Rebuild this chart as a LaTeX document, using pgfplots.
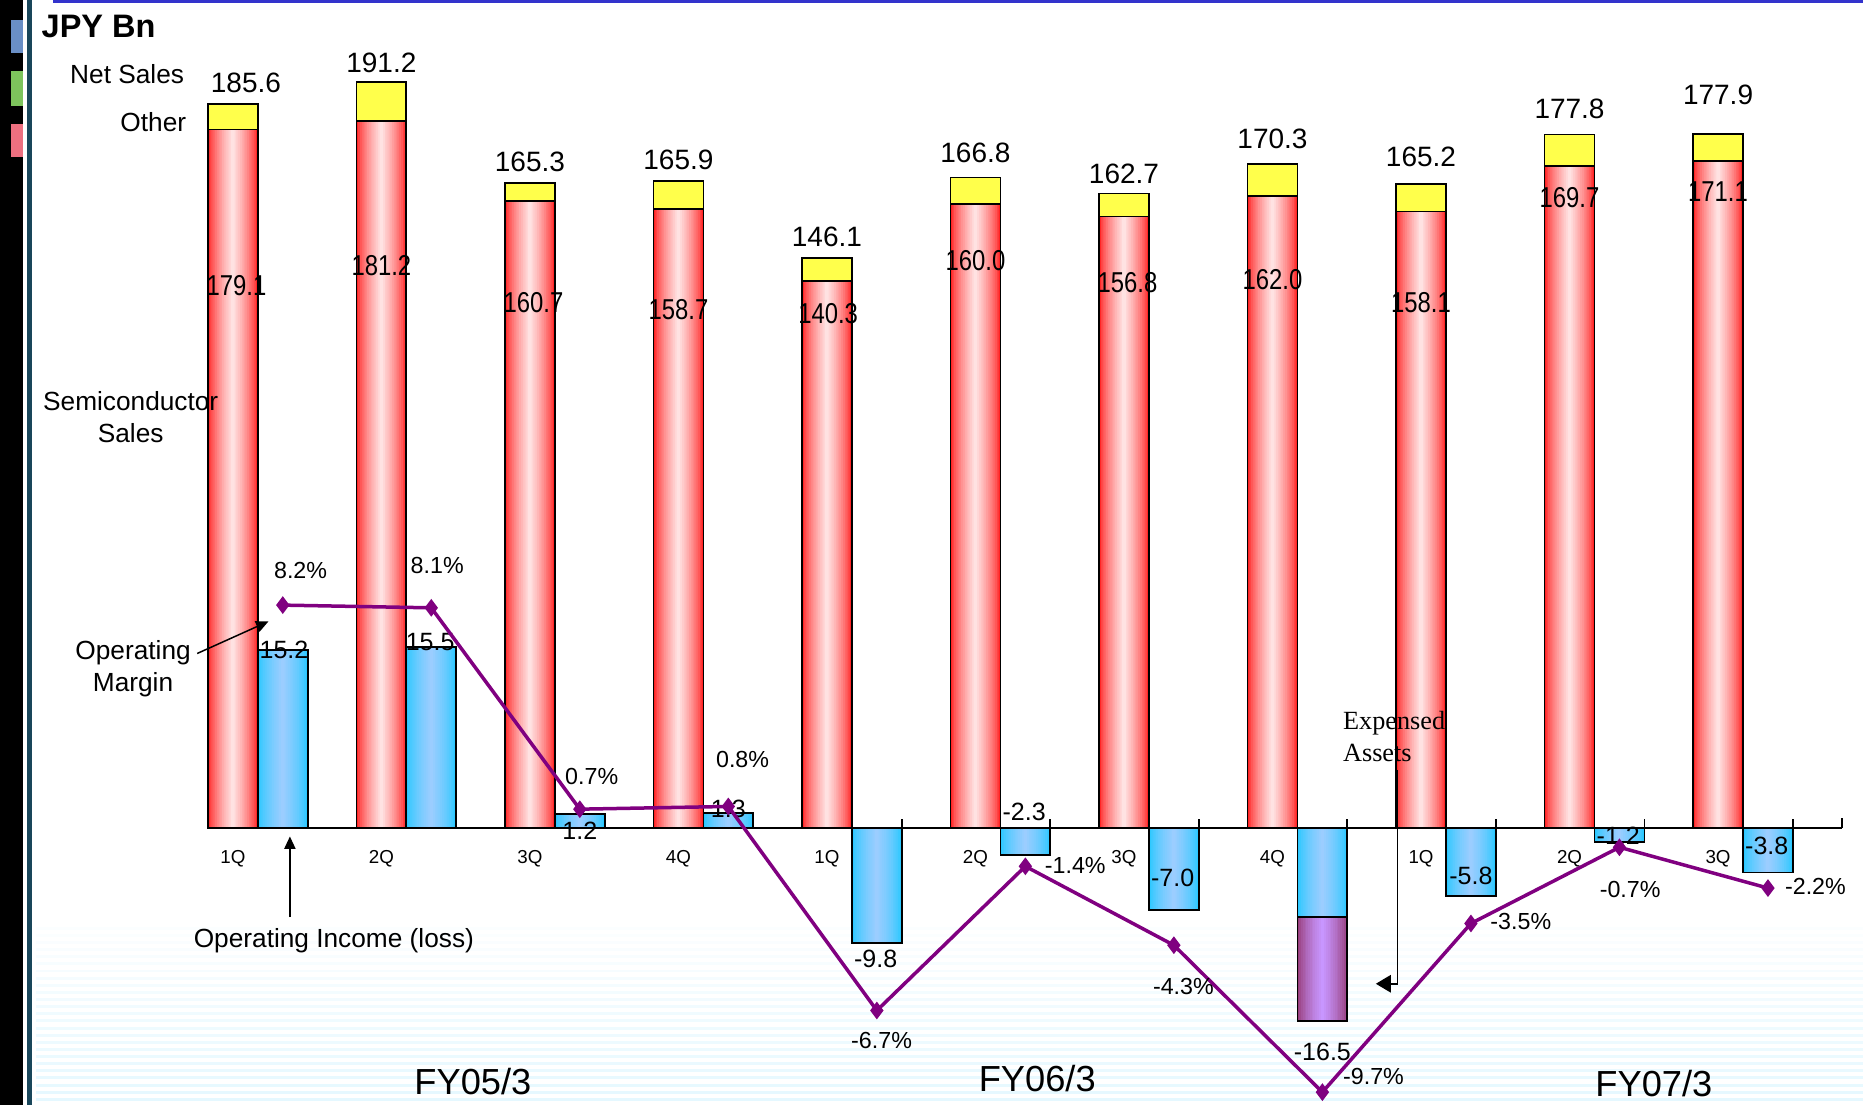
\documentclass[border=0pt]{standalone}
\usepackage{pgfplots}
\usepackage{pgfplotstable}
\pgfplotsset{compat=1.18}
\usepackage{fontspec}
\setmainfont{Liberation Sans}
\newfontfamily\timesf{Liberation Serif}
\usepackage{graphicx}
\usetikzlibrary{arrows.meta}

\definecolor{redE}{RGB}{255,35,35}
\definecolor{redC}{RGB}{255,226,226}
\definecolor{bluE}{RGB}{40,200,255}
\definecolor{bluC}{RGB}{155,205,255}
\definecolor{purE}{RGB}{150,60,120}
\definecolor{purC}{RGB}{200,150,255}
\definecolor{yelF}{RGB}{255,255,75}
\definecolor{lineP}{RGB}{128,0,128}
\definecolor{topblue}{RGB}{51,51,204}
\definecolor{sqblue}{RGB}{106,143,198}
\definecolor{sqgreen}{RGB}{125,196,92}
\definecolor{sqred}{RGB}{238,112,128}
\definecolor{tealdark}{RGB}{25,70,90}

\pgfplotstableread{
i semi net
0 179.1 185.6
1 181.2 191.2
2 160.7 165.3
3 158.7 165.9
4 140.3 146.1
5 160.0 166.8
6 156.8 162.7
7 162.0 170.3
8 158.1 165.2
9 169.7 177.8
10 171.1 177.9
}\salesdata

\pgfplotstableread{
i inc
0 15.2
1 15.5
2 1.2
3 1.3
4 -9.8
5 -2.3
6 -7.0
7 -7.6
8 -5.8
9 -1.2
10 -3.8
}\incdata

\pgfplotstableread{
i exp
7 -16.5
}\expdata

\newcommand\cond[1]{\scalebox{0.83}[1]{#1}}

\begin{document}
\begin{tikzpicture}
\useasboundingbox (0,0) rectangle (745.24pt,442pt);
\fill[white] (0,0) rectangle (745.24pt,442pt);
% decorations in shrunk-pixel coordinates (1568 x 930), y downwards
\begin{scope}[shift={(0,442pt)}, x=0.47528pt, y=-0.47528pt]
  \foreach \k in {0,...,25} {
    \pgfmathsetmacro{\yy}{780+\k*6}
    \pgfmathsetmacro{\op}{0.04+\k*0.012}
    \fill[blue!25!cyan!30, opacity=\op] (30,\yy) rectangle (1568,\yy+2.5);
  }
  \fill[black] (0,0) rectangle (19,930);
  \fill[sqblue] (9,17) rectangle (19,45);
  \fill[sqgreen] (9,60) rectangle (19,89);
  \fill[sqred] (9,104) rectangle (19,132);
  \fill[tealdark] (22.5,0) rectangle (27,930);
  \fill[topblue] (45,0) rectangle (1568,2.5);
\end{scope}

% Axis 1: sales
\begin{axis}[
  at={(0pt,0pt)}, anchor=south west,
  width=745.24pt, height=442pt, scale only axis,
  xmin=-1.568, xmax=10.976,
  ymin=-70.97, ymax=212.3,
  axis x line=middle, axis y line=none,
  x axis line style={draw=none},
  xtick={0,...,10},
  xticklabels={1Q,2Q,3Q,4Q,1Q,2Q,3Q,4Q,1Q,2Q,3Q},
  xticklabel style={anchor=center, yshift=-12.4pt, font=\fontsize{7.5}{9}\selectfont},
  major tick length=0pt,
  ytick=\empty,
  clip=false,
]
% net sales (yellow part shows above semiconductor)
\addplot[ybar, bar width=0.336, bar shift=0, fill=yelF, draw=black, line width=0.7pt] table[x=i, y=net] {\salesdata};
% semiconductor sales with layered horizontal gradient
\pgfplotsinvokeforeach{0,...,13}{%
  \pgfmathsetmacro\bw{0.336*(1-#1/14)}%
  \pgfmathtruncatemacro\mix{100*(#1/13)^0.7}%
  \edef\doplot{\noexpand\addplot[ybar, bar width=\bw, bar shift=0, fill=redC!\mix!redE, draw=none] table[x=i, y=semi] {\noexpand\salesdata};}%
  \doplot
}
\addplot[ybar, bar width=0.336, bar shift=0, fill=none, draw=black, line width=0.7pt] table[x=i, y=semi] {\salesdata};
\draw[line width=0.8pt] (axis cs:-0.168,0) -- (axis cs:10.832,0);
\draw[line width=0.8pt] (axis cs:10.832,0) -- (axis cs:10.832,2.5);
\pgfplotsinvokeforeach{0,...,10}{\draw[line width=0.7pt] (axis cs:#1+0.504,0) -- (axis cs:#1+0.504,2.3);}
\begin{scope}[every node/.style={font=\fontsize{11.2}{13}\selectfont}]
\node at (axis cs:0.088,191.0) {185.6};
\node at (axis cs:1,196.2) {191.2};
\node at (axis cs:2,170.9) {165.3};
\node at (axis cs:3,171.2) {165.9};
\node at (axis cs:4,151.6) {146.1};
\node at (axis cs:5,173.0) {166.8};
\node at (axis cs:6,167.8) {162.7};
\node at (axis cs:7,176.7) {170.3};
\node at (axis cs:8,172.1) {165.2};
\node at (axis cs:9,184.3) {177.8};
\node at (axis cs:10,187.9) {177.9};
\end{scope}
\begin{scope}[every node/.style={font=\fontsize{11.5}{13}\selectfont}]
\node at (axis cs:0.024,139.2) {\cond{179.1}};
\node at (axis cs:1,144.1) {\cond{181.2}};
\node at (axis cs:2.024,134.6) {\cond{160.7}};
\node at (axis cs:3,132.8) {\cond{158.7}};
\node at (axis cs:4.008,131.9) {\cond{140.3}};
\node at (axis cs:5,145.6) {\cond{160.0}};
\node at (axis cs:6.024,139.8) {\cond{156.8}};
\node at (axis cs:7,140.7) {\cond{162.0}};
\node at (axis cs:8,134.6) {\cond{158.1}};
\node at (axis cs:9,161.7) {\cond{169.7}};
\node at (axis cs:10,163.3) {\cond{171.1}};
\end{scope}
\end{axis}

% Axis 2: operating income
\begin{axis}[
  at={(0pt,0pt)}, anchor=south west,
  width=745.24pt, height=442pt, scale only axis,
  xmin=-1.568, xmax=10.976,
  ymin=-23.65, ymax=70.76,
  hide axis, clip=false,
]
\pgfplotsinvokeforeach{0,...,13}{%
  \pgfmathsetmacro\bw{0.336*(1-#1/14)}%
  \pgfmathtruncatemacro\mix{100*(#1/13)^0.7}%
  \edef\doplot{\noexpand\addplot[ybar, bar width=\bw, bar shift=0.336, fill=purC!\mix!purE, draw=none] table[x=i, y=exp] {\noexpand\expdata};}%
  \doplot
}
\addplot[ybar, bar width=0.336, bar shift=0.336, fill=none, draw=black, line width=0.7pt] table[x=i, y=exp] {\expdata};
\pgfplotsinvokeforeach{0,...,13}{%
  \pgfmathsetmacro\bw{0.336*(1-#1/14)}%
  \pgfmathtruncatemacro\mix{100*(#1/13)^0.7}%
  \edef\doplot{\noexpand\addplot[ybar, bar width=\bw, bar shift=0.336, fill=bluC!\mix!bluE, draw=none] table[x=i, y=inc] {\noexpand\incdata};}%
  \doplot
}
\addplot[ybar, bar width=0.336, bar shift=0.336, fill=none, draw=black, line width=0.7pt] table[x=i, y=inc] {\incdata};
\begin{scope}[every node/.style={font=\fontsize{10}{12}\selectfont}]
\node at (axis cs:0.344,15.23) {15.2};
\node at (axis cs:1.328,15.94) {15.5};
\node at (axis cs:2.336,-0.2) {1.2};
\node at (axis cs:3.336,1.62) {1.3};
\node at (axis cs:4.328,-11.17) {-9.8};
\node at (axis cs:5.328,1.42) {-2.3};
\node at (axis cs:6.328,-4.26) {-7.0};
\node at (axis cs:7.336,-19.09) {-16.5};
\node at (axis cs:8.336,-4.06) {-5.8};
\node at (axis cs:9.328,-0.61) {-1.2};
\node at (axis cs:10.328,-1.52) {-3.8};
\end{scope}
\end{axis}

% Axis 3: operating margin
\begin{axis}[
  at={(0pt,0pt)}, anchor=south west,
  width=745.24pt, height=442pt, scale only axis,
  xmin=-1.568, xmax=10.976,
  ymin=-10.17, ymax=30.44,
  hide axis, clip=false,
]
\addplot[lineP, line width=1.4pt, mark=diamond*, mark size=2.4pt, mark options={solid, fill=lineP}] coordinates {
 (0.336,8.2) (1.336,8.1) (2.336,0.7) (3.336,0.8) (4.336,-6.7) (5.336,-1.4) (6.336,-4.3) (7.336,-9.7) (8.336,-3.5) (9.336,-0.7) (10.336,-2.2)};
\begin{scope}[every node/.style={font=\fontsize{9.3}{11}\selectfont}]
\node at (axis cs:0.456,9.47) {8.2\%};
\node at (axis cs:1.376,9.65) {8.1\%};
\node at (axis cs:2.416,1.89) {0.7\%};
\node at (axis cs:3.432,2.54) {0.8\%};
\node at (axis cs:4.368,-7.81) {-6.7\%};
\node at (axis cs:5.672,-1.36) {-1.4\%};
\node at (axis cs:6.4,-5.83) {-4.3\%};
\node at (axis cs:7.68,-9.12) {-9.7\%};
\node at (axis cs:8.672,-3.42) {-3.5\%};
\node at (axis cs:9.408,-2.24) {-0.7\%};
\node at (axis cs:10.656,-2.15) {-2.2\%};
\end{scope}
\end{axis}

% annotations in shrunk-pixel coordinates
\begin{scope}[shift={(0,442pt)}, x=0.47528pt, y=-0.47528pt]
  \node[font=\bfseries\fontsize{13}{15}\selectfont] at (83,22) {JPY Bn};
  \node[font=\fontsize{10.5}{12.8}\selectfont] at (107,62) {Net Sales};
  \node[font=\fontsize{10.5}{12.8}\selectfont] at (129,103) {Other};
  \node[font=\fontsize{10.5}{12.8}\selectfont, align=center] at (110,351) {Semiconductor\\Sales};
  \node[font=\fontsize{10.5}{12.8}\selectfont, align=center] at (112,563) {Operating\\Margin};
  \node[font=\fontsize{10.5}{12.8}\selectfont] at (281,792) {Operating Income (loss)};
  \node[font=\timesf\fontsize{10.5}{12.5}\selectfont, align=left, anchor=west, inner sep=0pt] at (1130,620) {Expensed\\Assets};
  \node[font=\fontsize{14.5}{17}\selectfont] at (398,910) {FY05/3};
  \node[font=\fontsize{14.5}{17}\selectfont] at (873,908) {FY06/3};
  \node[font=\fontsize{14.5}{17}\selectfont] at (1392,912) {FY07/3};
  \draw[line width=0.6pt, -{Triangle[length=5pt,width=4.5pt]}] (166,550) -- (226,523);
  \draw[line width=0.6pt, -{Triangle[length=5pt,width=4.5pt]}] (244,772) -- (244,704);
  \draw[line width=0.6pt, -{Triangle[length=6pt,width=7pt]}] (1176,648) -- (1176,828) -- (1158,828);
\end{scope}
\end{tikzpicture}
\end{document}
